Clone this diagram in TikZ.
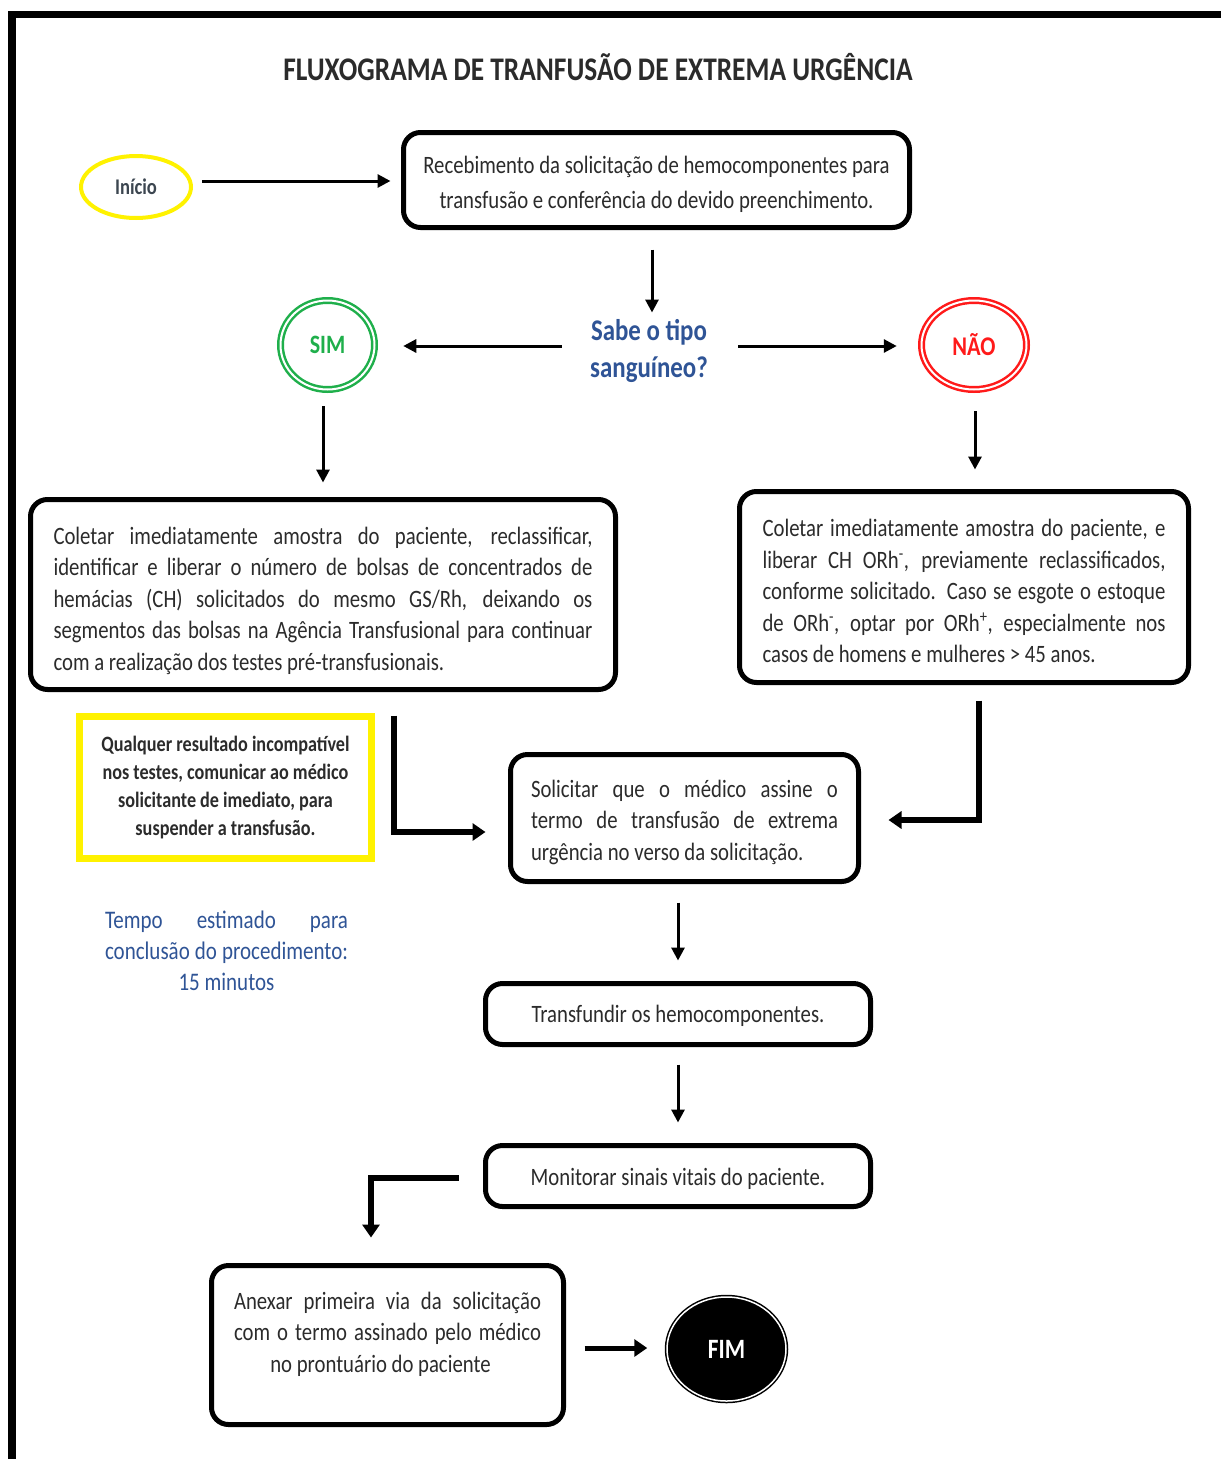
\documentclass[tikz,border=0pt]{standalone}
\usepackage{fontspec}
\setmainfont{Carlito}[FakeStretch=0.83]
\usetikzlibrary{calc,shapes.geometric,arrows.meta}

\definecolor{ink}{HTML}{2B2B2B}
\definecolor{startink}{HTML}{3C4650}
\definecolor{qblue}{HTML}{2F5496}
\definecolor{okgreen}{HTML}{1FAF4B}
\definecolor{nored}{HTML}{FF1A1A}
\definecolor{hl}{HTML}{FFF200}

% one justified line of a given width
\newcommand\jline[2]{\makebox[#1][s]{#2}}
% invisible struts to balance a text block inside its box
\newcommand\tallstrut[1]{\rule{0pt}{#1}}
\newcommand\deepstrut[1]{\rule[-#1]{0pt}{0pt}}

\begin{document}
\begin{tikzpicture}[x=1pt,y=-1pt,
  stepbox/.style={draw=black, line width=5pt, rounded corners=17pt, inner sep=0pt,
    text=ink, font=\fontsize{25}{31.5}\selectfont, align=left},
  thinarr/.style={line width=3pt, -{Triangle[length=13pt,width=13pt]}},
  thickarr/.style={line width=6pt, -{Triangle[length=13pt,width=17pt]}},
  terminal/.style={ellipse, inner sep=0pt, font=\bfseries\fontsize{27}{29}\selectfont},
  answer/.style={terminal, double=white, double distance=2pt, line width=2.5pt},
]
\useasboundingbox (0,0) rectangle (1221,1459);

% page frame (top and left edges)
\draw[line width=7.7pt] (12,1459) -- (12,14.5) -- (1221,14.5);

% title
\node[font=\bfseries\fontsize{33}{36}\selectfont, text=ink] (title) at (598,67)
  {FLUXOGRAMA DE TRANFUSÃO DE EXTREMA URGÊNCIA};

% start
\node[ellipse, draw=hl, line width=4pt, minimum width=110pt, minimum height=62pt,
  inner sep=0pt, font=\bfseries\fontsize{22.4}{24}\selectfont, text=startink] (inicio) at (136,187) {Início};

\node[stepbox, minimum width=506pt, minimum height=95pt, align=center,
  font=\fontsize{25}{35}\selectfont] (rec) at (656.5,180)
  {\tallstrut{26pt}Recebimento da solicitação de hemocomponentes para\\transfusão e conferência do devido preenchimento.};

% decision
\node[inner sep=0pt, font=\bfseries\fontsize{30}{37}\selectfont, text=qblue, align=center] (sabe) at (649,351)
  {Sabe o tipo\\sanguíneo?};

\node[answer, draw=okgreen, text=okgreen, minimum width=94pt, minimum height=89pt,
  font=\bfseries\fontsize{26.5}{28}\selectfont] (sim) at (327.5,345) {SIM};
\node[answer, draw=nored, text=nored, minimum width=105pt, minimum height=89pt] (nao) at (974,345) {NÃO};

% branch boxes
\node[stepbox, minimum width=585pt, minimum height=190pt] (boxL) at (323,594.5)
  {\tallstrut{30pt}\jline{539pt}{Coletar imediatamente amostra do paciente, reclassificar,}\\
   \jline{539pt}{identificar e liberar o número de bolsas de concentrados de}\\
   \jline{539pt}{hemácias (CH) solicitados do mesmo GS/Rh, deixando os}\\
   \jline{539pt}{segmentos das bolsas na Agência Transfusional para continuar}\\
   com a realização dos testes pré-transfusionais.};

\node[stepbox, minimum width=449pt, minimum height=191pt] (boxR) at (964,587)
  {\tallstrut{26pt}\jline{403pt}{Coletar imediatamente amostra do paciente, e}\\
   \jline{403pt}{liberar CH ORh\textsuperscript{-}, previamente reclassificados,}\\
   \jline{403pt}{conforme solicitado. Caso se esgote o estoque}\\
   \jline{403pt}{de ORh\textsuperscript{-}, optar por ORh\textsuperscript{+}, especialmente nos}\\
   casos de homens e mulheres > 45 anos.};

% warning note
\node[draw=hl, line width=7pt, minimum width=292pt, minimum height=142pt, inner sep=0pt,
  align=center, font=\bfseries\fontsize{21.9}{28}\selectfont, text=ink] (aviso) at (225.5,787.5)
  {Qualquer resultado incompatível\\nos testes, comunicar ao médico\\solicitante de imediato, para\\suspender a transfusão.};

% estimated time
\node[inner sep=0pt, align=center, font=\fontsize{25.3}{31}\selectfont, text=qblue] (tempo) at (226.5,951)
  {\jline{243pt}{Tempo estimado para}\\\jline{243pt}{conclusão do procedimento:}\\15 minutos};

% main sequence
\node[stepbox, minimum width=348pt, minimum height=127pt] (solic) at (684.5,818)
  {\tallstrut{26pt}\jline{307pt}{Solicitar que o médico assine o}\\
   \jline{307pt}{termo de transfusão de extrema}\\
   urgência no verso da solicitação.};

\node[stepbox, minimum width=385pt, minimum height=61pt, align=center] (transf) at (678,1014)
  {\tallstrut{22pt}Transfundir os hemocomponentes.};

\node[stepbox, minimum width=385pt, minimum height=61pt, align=center] (monit) at (678,1176)
  {\tallstrut{22pt}Monitorar sinais vitais do paciente.};

\node[stepbox, minimum width=352pt, minimum height=159pt, align=center] (anexar) at (387.5,1345)
  {\jline{307pt}{Anexar primeira via da solicitação}\\
   \jline{307pt}{com o termo assinado pelo médico}\\
   \hspace*{-14pt}no prontuário do paciente\deepstrut{26pt}};

% end
\node[terminal, fill=black, draw=black, double=white, double distance=1.5pt, line width=1.5pt,
  text=white, font=\bfseries\fontsize{28}{30}\selectfont,
  minimum width=119pt, minimum height=104pt] (fim) at (726.5,1349) {FIM};

% connectors
\draw[thinarr] ($(inicio.east)+(9,-6)$) -- ($(rec.west)+(-10.5,1)$);
\draw[thinarr] ($(rec.south)+(-4.5,19.5)$) -- ++(0,63);
\draw[thinarr] ($(sabe.west)+(-28,-5)$) -- ($(sim.east)+(27.5,1)$);
\draw[thinarr] ($(sabe.east)+(30,-5)$) -- ($(nao.west)+(-23.5,1)$);
\draw[thinarr] ($(sim.south)+(-4.5,15.5)$) -- ($(boxL.north)+(0,-14.5)$);
\draw[thinarr] ($(nao.south)+(1,20.5)$) -- ($(boxR.north)+(11,-19.5)$);
\draw[thickarr] ($(boxL.south)+(71,23.5)$) |- ($(solic.west)+(-22.5,14)$);
\draw[thickarr] ($(boxR.south)+(15,15.5)$) |- ($(solic.east)+(27.5,2)$);
\draw[thinarr] ($(solic.south)+(-6.5,18.5)$) -- ($(transf.north)+(0,-20.5)$);
\draw[thinarr] ($(transf.south)+(0,17.5)$) -- ($(monit.north)+(0,-20.5)$);
\draw[thickarr] ($(monit.west)+(-24.5,2)$) -| ($(anexar.north)+(-16.5,-25.5)$);
\draw[thickarr, line width=5pt] ($(anexar.east)+(18.5,3)$) -- ($(fim.west)+(-19,-1)$);
\end{tikzpicture}
\end{document}
